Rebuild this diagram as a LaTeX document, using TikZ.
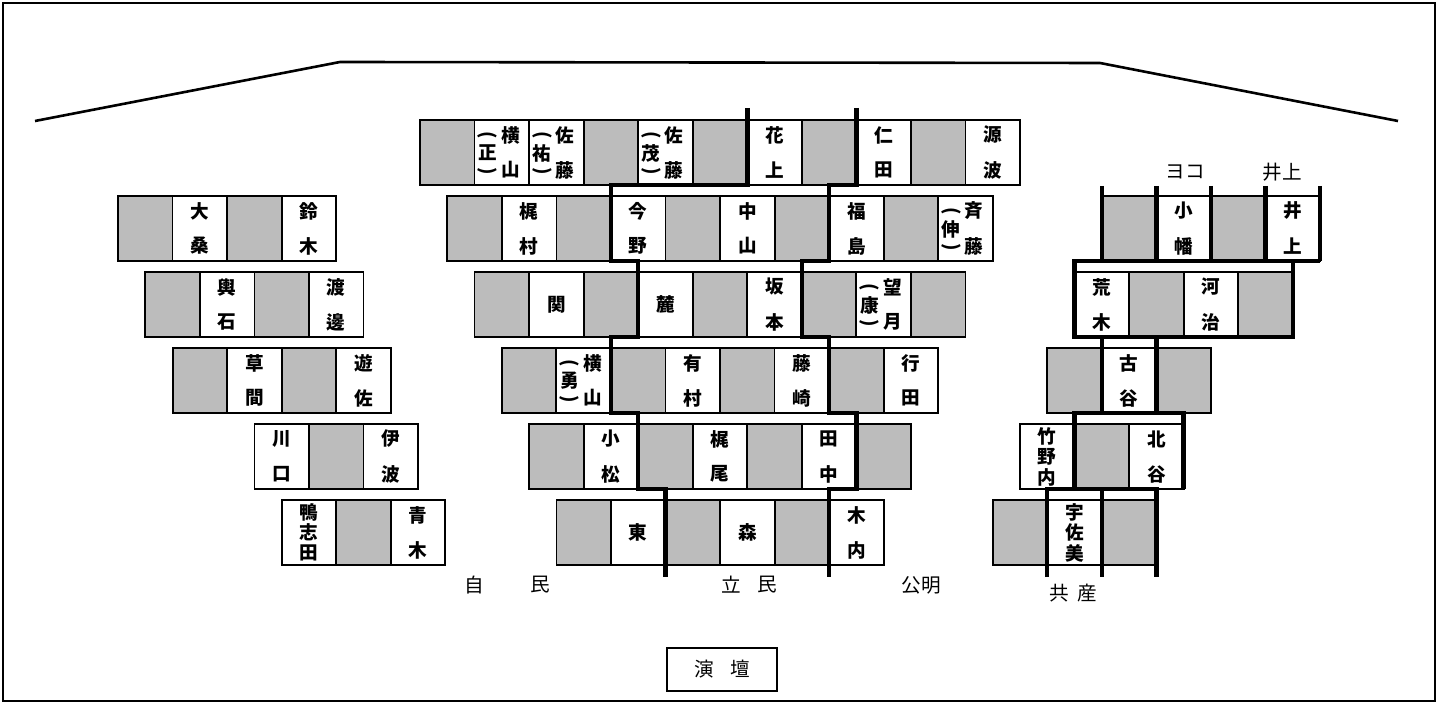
\documentclass[tikz,border=0pt]{standalone}
\usepackage{fontspec}
\usepackage{graphicx}
\newfontfamily\jp{Noto Sans CJK JP}
\definecolor{seatgray}{RGB}{188,188,188}
\tikzset{
  seat/.style={draw=black, line width=0.9pt, minimum width=27.275pt, minimum height=32.5pt, inner sep=0pt, outer sep=0pt, anchor=north west},
  shd/.style={seat, fill=seatgray},
  nm/.style={seat, fill=white},
  ch/.style={inner sep=0pt, font=\jp\bfseries\fontsize{9.3pt}{9.3pt}\selectfont},
  lbl/.style={inner sep=0pt, font=\jp\fontsize{9.8pt}{9.8pt}\selectfont},
  party/.style={line width=2.2pt, line join=miter},
  frame/.style={line width=1.4pt},
}
\newcommand\Sh{\node[shd] (\cur) at (\cx,\cy) {};}
\newcommand\One[1]{\node[nm] (\cur) at (\cx,\cy) {};
  \node[ch] (\cur-a) at (\cur.center) {#1};}
\newcommand\Two[2]{\node[nm] (\cur) at (\cx,\cy) {};
  \node[ch] (\cur-a) at ([yshift=-7.5pt]\cur.north) {#1};
  \node[ch] (\cur-b) at ([yshift=7.5pt]\cur.south) {#2};}
\newcommand\Three[3]{\node[nm] (\cur) at (\cx,\cy) {};
  \node[ch] (\cur-a) at ([yshift=-6pt]\cur.north) {#1};
  \node[ch] (\cur-b) at (\cur.center) {#2};
  \node[ch] (\cur-c) at ([yshift=6pt]\cur.south) {#3};}
\newcommand\Paren[3]{\node[nm] (\cur) at (\cx,\cy) {};
  \node[ch] (\cur-a) at ([xshift=18pt,yshift=-7.5pt]\cur.north west) {#1};
  \node[ch] (\cur-b) at ([xshift=18pt,yshift=7.5pt]\cur.south west) {#3};
  \node[ch] (\cur-p) at ([xshift=6.5pt,yshift=-7.5pt]\cur.north west) {\rotatebox{-90}{(}};
  \node[ch] (\cur-c) at ([xshift=6.5pt,yshift=-16.5pt]\cur.north west) {#2};
  \node[ch] (\cur-q) at ([xshift=6.5pt,yshift=-25.5pt]\cur.north west) {\rotatebox{-90}{)}};}
\newcommand\seatrow[4]{%
  \foreach \itm [count=\i from 0] in {#4}{%
    \pgfmathsetmacro\cx{#2+\i*54.55}%
    \def\cy{#3}%
    \edef\cur{#1c\i}%
    \itm
  }}
\begin{document}
\begin{tikzpicture}[x=0.5pt,y=-0.5pt]
\useasboundingbox (0,0) rectangle (1438,704);
\draw[frame] (3,3) rectangle (1435,701);
\draw[line width=1.3pt] (35,121) -- (340,62) -- (1100,63) -- (1398,121);

% central block
\seatrow{C1}{420}{120}{\Sh, \Paren{横}{正}{山}, \Paren{佐}{祐}{藤}, \Sh, \Paren{佐}{茂}{藤}, \Sh, \Two{花}{上}, \Sh, \Two{仁}{田}, \Sh, \Two{源}{波}}
\seatrow{C2}{447.3}{196}{\Sh, \Two{梶}{村}, \Sh, \Two{今}{野}, \Sh, \Two{中}{山}, \Sh, \Two{福}{島}, \Sh, \Paren{斉}{伸}{藤}}
\seatrow{C3}{474.5}{272}{\Sh, \One{関}, \Sh, \One{麓}, \Sh, \Two{坂}{本}, \Sh, \Paren{望}{康}{月}, \Sh}
\seatrow{C4}{501.8}{348}{\Sh, \Paren{横}{勇}{山}, \Sh, \Two{有}{村}, \Sh, \Two{藤}{崎}, \Sh, \Two{行}{田}}
\seatrow{C5}{529.1}{424}{\Sh, \Two{小}{松}, \Sh, \Two{梶}{尾}, \Sh, \Two{田}{中}, \Sh}
\seatrow{C6}{556.4}{500}{\Sh, \One{東}, \Sh, \One{森}, \Sh, \Two{木}{内}}

% left block
\seatrow{L1}{118}{196}{\Sh, \Two{大}{桑}, \Sh, \Two{鈴}{木}}
\seatrow{L2}{145.3}{272}{\Sh, \Two{輿}{石}, \Sh, \Two{渡}{邊}}
\seatrow{L3}{172.6}{348}{\Sh, \Two{草}{間}, \Sh, \Two{遊}{佐}}
\seatrow{L4}{254.4}{424}{\Two{川}{口}, \Sh, \Two{伊}{波}}
\seatrow{L5}{281.7}{500}{\Three{鴨}{志}{田}, \Sh, \Two{青}{木}}

% right block
\seatrow{R1}{1101.8}{196}{\Sh, \Two{小}{幡}, \Sh, \Two{井}{上}}
\seatrow{R2}{1074.5}{272}{\Two{荒}{木}, \Sh, \Two{河}{治}, \Sh}
\seatrow{R3}{1047.3}{348}{\Sh, \Two{古}{谷}, \Sh}
\seatrow{R4}{1020}{424}{\Three{竹}{野}{内}, \Sh, \Two{北}{谷}}
\seatrow{R5}{992.7}{500}{\Sh, \Three{宇}{佐}{美}, \Sh}

% party dividers
\draw[party] ([yshift=6pt]C1c6.north west) -- (C1c6.south west) -| (C2c3.south west) -| (C3c3.south west) -| (C4c2.south west) -| (C5c2.south west) -| ([yshift=-6pt]C6c2.south west);
\draw[party] ([yshift=6pt]C1c8.north west) -- (C1c8.south west) -| (C2c7.south west) -| (C3c6.south west) -| (C4c6.south west) -| (C5c6.south west) -| ([yshift=-6pt]C6c5.south west);

\foreach \k in {0,...,3} \draw[party] ([yshift=5pt]R1c\k.north west) -- (R1c\k.south west);
\draw[party] ([yshift=5pt]R1c3.north east) -- (R1c3.south east);
\draw[party] (R1c3.south east) -| (R2c0.south west) -- (R2c3.south east) -- (R2c3.south east |- R1c3.south east);
\draw[party] (R3c1.north west |- R2c0.south west) -- (R3c1.south west);
\draw[party] (R3c2.north west |- R2c0.south west) -- (R3c2.south west);
\draw[party] (R4c1.south west) |- (R4c2.south east |- R3c0.south west) -- (R4c2.south east);
\draw[party] ([yshift=-6pt]R5c1.south west) |- (R5c2.south east |- R4c0.south west) -- ([yshift=-6pt]R5c2.south east);
\draw[party] (R5c2.north west |- R4c0.south west) -- ([yshift=-6pt]R5c2.south west);

% labels
\node[lbl] (yoko) at (1185,172) {ヨコ};
\node[lbl] (inoue) at (1282,172) {井上};
\node[lbl] (ji) at (474,585) {自};
\node[lbl] (min1) at (540,585) {民};
\node[lbl] (ritsu) at (731,585) {立};
\node[lbl] (min2) at (767,585) {民};
\node[lbl] (komei) at (921,585) {公明};
\node[lbl] (kyosan) at (1073,593) {共\hspace{4pt}産};
\node[lbl, draw, line width=1pt, minimum width=55pt, minimum height=21.5pt] (stage) at (722,669.5) {演\hspace{8pt}壇};
\end{tikzpicture}
\end{document}
